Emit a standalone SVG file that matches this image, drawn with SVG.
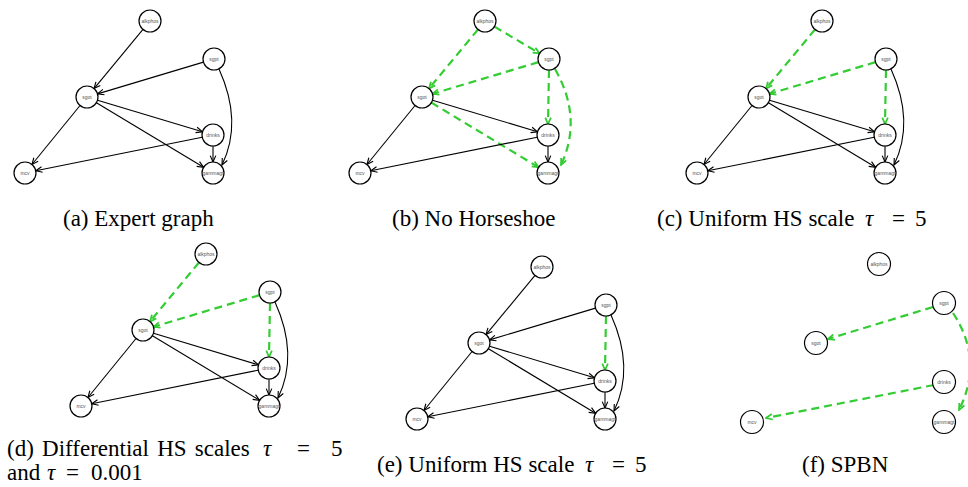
<svg xmlns="http://www.w3.org/2000/svg" width="968" height="487" viewBox="0 0 968 487">
<style>
.n circle{fill:#fff;stroke:#000;stroke-width:1.2}
.n text{font-family:"Liberation Sans",Arial,sans-serif;font-size:5px;fill:#555;text-anchor:middle}
.e{fill:none;stroke:#000;stroke-width:1.1;marker-end:url(#ab)}
.g{fill:none;stroke:#33cc33;stroke-width:2.2;stroke-dasharray:8 5;marker-end:url(#ag)}
.cap{font-family:"Liberation Serif","Times New Roman",serif;font-size:23px;fill:#000}
.m{font-style:italic}
</style>
<defs>
<marker id="ab" viewBox="0 0 10 10" refX="9" refY="5" markerWidth="8" markerHeight="8" orient="auto" markerUnits="userSpaceOnUse"><path d="M1,1.5 L9,5 L1,8.5" fill="none" stroke="#000" stroke-width="1.4"/></marker>
<marker id="ag" viewBox="0 0 10 10" refX="9" refY="5" markerWidth="8" markerHeight="8" orient="auto" markerUnits="userSpaceOnUse"><path d="M1,1.5 L9,5 L1,8.5" fill="none" stroke="#33cc33" stroke-width="2.2"/></marker>
</defs>

<!-- Panel (a) -->
<g id="panel-a">
<g id="a-edges">
<path class="e" d="M142.98,29.47 L94.02,88.53"/>
<path class="e" d="M203.46,62.15 L97.54,93.85"/>
<path class="e" d="M97.53,100.18 L202.47,131.82"/>
<path class="e" d="M96.42,102.68 L203.58,167.32"/>
<path class="e" d="M80.05,105.52 L31.95,164.48"/>
<path class="e" d="M202.22,137.18 L35.78,170.82"/>
<path class="e" d="M213,146 L213,162"/>
<path class="e" d="M219,69 Q243,122 222,165"/>
</g>
<g id="a-alkphos" class="n"><circle cx="150" cy="21" r="11"/><text x="150" y="22.8">alkphos</text></g>
<g id="a-sgpt" class="n"><circle cx="214" cy="59" r="11"/><text x="214" y="60.8">sgpt</text></g>
<g id="a-sgot" class="n"><circle cx="87" cy="97" r="11"/><text x="87" y="98.8">sgot</text></g>
<g id="a-drinks" class="n"><circle cx="213" cy="135" r="11"/><text x="213" y="136.8">drinks</text></g>
<g id="a-gammagt" class="n"><circle cx="213" cy="173" r="11"/><text x="213" y="174.8">gammagt</text></g>
<g id="a-mcv" class="n"><circle cx="25" cy="173" r="11"/><text x="25" y="174.8">mcv</text></g>
</g>

<!-- Panel (b) -->
<g id="panel-b" transform="translate(335,0)">
<g id="b-edges">
<path class="g" d="M142.98,29.47 L94.02,88.53"/>
<path class="g" d="M159.46,26.62 L204.54,53.38"/>
<path class="g" d="M203.46,62.15 L97.54,93.85"/>
<path class="g" d="M214,70 L213,124"/>
<path class="g" d="M220,69 Q248,118 226,165"/>
<path class="g" d="M96.42,102.68 L203.58,167.32"/>
<path class="e" d="M97.53,100.18 L202.47,131.82"/>
<path class="e" d="M80.05,105.52 L31.95,164.48"/>
<path class="e" d="M202.22,137.18 L35.78,170.82"/>
<path class="e" d="M213,146 L213,162"/>
</g>
<g id="b-alkphos" class="n"><circle cx="150" cy="21" r="11"/><text x="150" y="22.8">alkphos</text></g>
<g id="b-sgpt" class="n"><circle cx="214" cy="59" r="11"/><text x="214" y="60.8">sgpt</text></g>
<g id="b-sgot" class="n"><circle cx="87" cy="97" r="11"/><text x="87" y="98.8">sgot</text></g>
<g id="b-drinks" class="n"><circle cx="213" cy="135" r="11"/><text x="213" y="136.8">drinks</text></g>
<g id="b-gammagt" class="n"><circle cx="213" cy="173" r="11"/><text x="213" y="174.8">gammagt</text></g>
<g id="b-mcv" class="n"><circle cx="25" cy="173" r="11"/><text x="25" y="174.8">mcv</text></g>
</g>

<!-- Panel (c) -->
<g id="panel-c" transform="translate(672,0)">
<g id="c-edges">
<path class="g" d="M142.98,29.47 L94.02,88.53"/>
<path class="g" d="M203.46,62.15 L97.54,93.85"/>
<path class="g" d="M214,70 L213,124"/>
<path class="e" d="M219,69 Q243,122 222,165"/>
<path class="e" d="M97.53,100.18 L202.47,131.82"/>
<path class="e" d="M96.42,102.68 L203.58,167.32"/>
<path class="e" d="M80.05,105.52 L31.95,164.48"/>
<path class="e" d="M202.22,137.18 L35.78,170.82"/>
<path class="e" d="M213,146 L213,162"/>
</g>
<g id="c-alkphos" class="n"><circle cx="150" cy="21" r="11"/><text x="150" y="22.8">alkphos</text></g>
<g id="c-sgpt" class="n"><circle cx="214" cy="59" r="11"/><text x="214" y="60.8">sgpt</text></g>
<g id="c-sgot" class="n"><circle cx="87" cy="97" r="11"/><text x="87" y="98.8">sgot</text></g>
<g id="c-drinks" class="n"><circle cx="213" cy="135" r="11"/><text x="213" y="136.8">drinks</text></g>
<g id="c-gammagt" class="n"><circle cx="213" cy="173" r="11"/><text x="213" y="174.8">gammagt</text></g>
<g id="c-mcv" class="n"><circle cx="25" cy="173" r="11"/><text x="25" y="174.8">mcv</text></g>
</g>

<!-- Panel (d) -->
<g id="panel-d" transform="translate(56,233)">
<g id="d-edges">
<path class="g" d="M142.98,29.47 L94.02,88.53"/>
<path class="g" d="M203.46,62.15 L97.54,93.85"/>
<path class="g" d="M214,70 L213,124"/>
<path class="e" d="M219,69 Q243,122 222,165"/>
<path class="e" d="M97.53,100.18 L202.47,131.82"/>
<path class="e" d="M96.42,102.68 L203.58,167.32"/>
<path class="e" d="M80.05,105.52 L31.95,164.48"/>
<path class="e" d="M202.22,137.18 L35.78,170.82"/>
<path class="e" d="M213,146 L213,162"/>
</g>
<g id="d-alkphos" class="n"><circle cx="150" cy="21" r="11"/><text x="150" y="22.8">alkphos</text></g>
<g id="d-sgpt" class="n"><circle cx="214" cy="59" r="11"/><text x="214" y="60.8">sgpt</text></g>
<g id="d-sgot" class="n"><circle cx="87" cy="97" r="11"/><text x="87" y="98.8">sgot</text></g>
<g id="d-drinks" class="n"><circle cx="213" cy="135" r="11"/><text x="213" y="136.8">drinks</text></g>
<g id="d-gammagt" class="n"><circle cx="213" cy="173" r="11"/><text x="213" y="174.8">gammagt</text></g>
<g id="d-mcv" class="n"><circle cx="25" cy="173" r="11"/><text x="25" y="174.8">mcv</text></g>
</g>

<!-- Panel (e) -->
<g id="panel-e" transform="translate(392,246)">
<g id="e-edges">
<path class="e" d="M142.98,29.47 L94.02,88.53"/>
<path class="e" d="M203.46,62.15 L97.54,93.85"/>
<path class="g" d="M214,70 L213,124"/>
<path class="e" d="M219,69 Q243,122 222,165"/>
<path class="e" d="M97.53,100.18 L202.47,131.82"/>
<path class="e" d="M96.42,102.68 L203.58,167.32"/>
<path class="e" d="M80.05,105.52 L31.95,164.48"/>
<path class="e" d="M202.22,137.18 L35.78,170.82"/>
<path class="e" d="M213,146 L213,162"/>
</g>
<g id="e-alkphos" class="n"><circle cx="150" cy="21" r="11"/><text x="150" y="22.8">alkphos</text></g>
<g id="e-sgpt" class="n"><circle cx="214" cy="59" r="11"/><text x="214" y="60.8">sgpt</text></g>
<g id="e-sgot" class="n"><circle cx="87" cy="97" r="11"/><text x="87" y="98.8">sgot</text></g>
<g id="e-drinks" class="n"><circle cx="213" cy="135" r="11"/><text x="213" y="136.8">drinks</text></g>
<g id="e-gammagt" class="n"><circle cx="213" cy="173" r="11"/><text x="213" y="174.8">gammagt</text></g>
<g id="e-mcv" class="n"><circle cx="25" cy="173" r="11"/><text x="25" y="174.8">mcv</text></g>
</g>

<!-- Panel (f) -->
<g id="panel-f">
<g id="f-edges">
<path class="g" d="M933,307 L828,339"/>
<path class="g" d="M934,385 L766,418"/>
<path class="g" d="M953,313 Q984,360 959,410"/>
</g>
<g id="f-alkphos" class="n"><circle cx="879" cy="264" r="11.5"/><text x="879" y="265.8">alkphos</text></g>
<g id="f-sgpt" class="n"><circle cx="944" cy="303" r="11.5"/><text x="944" y="304.8">sgpt</text></g>
<g id="f-sgot" class="n"><circle cx="816" cy="343" r="11.5"/><text x="816" y="344.8">sgot</text></g>
<g id="f-drinks" class="n"><circle cx="944" cy="382" r="11.5"/><text x="944" y="383.8">drinks</text></g>
<g id="f-gammagt" class="n"><circle cx="944" cy="422" r="11.5"/><text x="944" y="423.8">gammagt</text></g>
<g id="f-mcv" class="n"><circle cx="752" cy="422" r="11.5"/><text x="752" y="423.8">mcv</text></g>
</g>

<!-- Captions -->
<g id="captions" class="cap">
<text x="63" y="226">(a) Expert graph</text>
<text x="392" y="226">(b) No Horseshoe</text>
<text x="657" y="226">(c) Uniform HS scale <tspan class="m" x="865">τ</tspan><tspan x="892">=</tspan><tspan x="915">5</tspan></text>
<text x="7" y="456" word-spacing="2.5">(d) Differential HS scales <tspan class="m" x="263">τ</tspan><tspan x="297">=</tspan><tspan x="331">5</tspan></text>
<text x="7" y="480">and <tspan class="m" x="47">τ</tspan><tspan x="66">=</tspan><tspan x="91">0.001</tspan></text>
<text x="377" y="472">(e) Uniform HS scale <tspan class="m" x="585">τ</tspan><tspan x="612">=</tspan><tspan x="635">5</tspan></text>
<text x="802" y="472">(f) SPBN</text>
</g>
</svg>
